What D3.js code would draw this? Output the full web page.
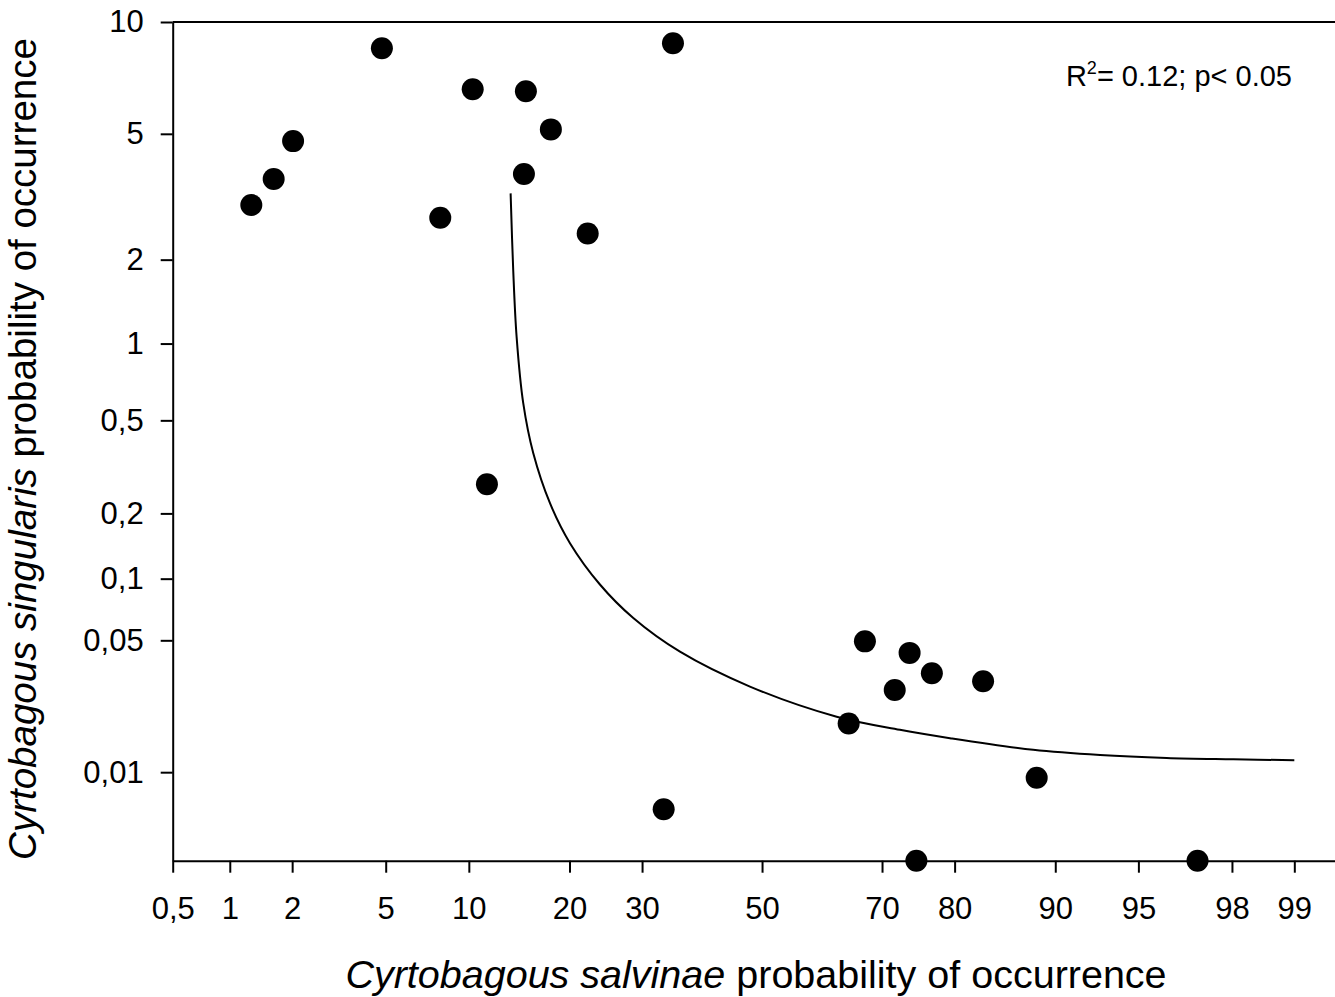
<!DOCTYPE html>
<html>
<head>
<meta charset="utf-8">
<script src="https://cdn.jsdelivr.net/npm/d3@7"></script>
<style>
  html, body { margin: 0; padding: 0; background: #fff; }
  svg { display: block; font-family: "Liberation Sans", Arial, sans-serif; }
</style>
</head>
<body>
<svg id="chart" width="1335" height="997"></svg>
<script>
// Probability of occurrence (%) of each weevil species per site
const salvinae   = [1.28, 1.64, 2.02, 4.83, 7.98, 10.3, 11.46, 15.1, 14.9, 17.8, 22.3, 34.85, 33.36,
                    64.75, 67.35, 71.9, 74.05, 77.1, 83.3, 75.0, 88.5, 97.15];
const singularis = [3.03, 3.66, 4.76, 8.58, 2.76, 6.68, 0.269, 6.6, 3.79, 5.15, 2.45, 8.84, 0.00617,
                    0.0185, 0.0494, 0.0278, 0.0432, 0.034, 0.0309, 0.00308, 0.00932, 0.00308];

// Fitted regression curve
const fitX = [13.59, 13.84, 14.17, 14.83, 15.87, 17.70, 20.06, 23.93, 28.68, 35.99, 47.89,
              62.78, 72.66, 79.43, 88.20, 93.02, 96.15, 98.03, 99.0];
const fitY = [3.30, 1.84, 1.06, 0.587, 0.365, 0.222, 0.1465, 0.0938, 0.0645, 0.0438, 0.0290,
              0.0201, 0.0171, 0.0154, 0.0133, 0.01245, 0.0120, 0.0118, 0.01165];

const xTicks = [0.5, 1, 2, 5, 10, 20, 30, 50, 70, 80, 90, 95, 98, 99];
const yTicks = [0.01, 0.05, 0.1, 0.2, 0.5, 1, 2, 5, 10];
const xDomain = [0.5, 99.5];
const yDomain = [0.00308, 10];

const statText = "= 0.12; p< 0.05";

// Inverse standard normal CDF (Acklam's rational approximation)
function probit(p) {
  const a = [-3.969683028665376e+01, 2.209460984245205e+02, -2.759285104469687e+02,
             1.383577518672690e+02, -3.066479806614716e+01, 2.506628277459239e+00];
  const b = [-5.447609879822406e+01, 1.615858368580409e+02, -1.556989798598866e+02,
             6.680131188771972e+01, -1.328068155288572e+01];
  const c = [-7.784894002430293e-03, -3.223964580411365e-01, -2.400758277161838e+00,
             -2.549732539343734e+00, 4.374664141464968e+00, 2.938163982698783e+00];
  const d = [7.784695709041462e-03, 3.224671290700398e-01, 2.445134137142996e+00,
             3.754408661907416e+00];
  const pl = 0.02425, ph = 1 - pl;
  let q, r;
  if (p < pl) {
    q = Math.sqrt(-2 * Math.log(p));
    return (((((c[0]*q+c[1])*q+c[2])*q+c[3])*q+c[4])*q+c[5]) /
           ((((d[0]*q+d[1])*q+d[2])*q+d[3])*q+1);
  }
  if (p <= ph) {
    q = p - 0.5; r = q * q;
    return (((((a[0]*r+a[1])*r+a[2])*r+a[3])*r+a[4])*r+a[5])*q /
           (((((b[0]*r+b[1])*r+b[2])*r+b[3])*r+b[4])*r+1);
  }
  q = Math.sqrt(-2 * Math.log(1 - p));
  return -(((((c[0]*q+c[1])*q+c[2])*q+c[3])*q+c[4])*q+c[5]) /
          ((((d[0]*q+d[1])*q+d[2])*q+d[3])*q+1);
}

// Probability (normal-probit) scale for percentages, usable with d3.axis
function scaleProbability() {
  const lin = d3.scaleLinear();
  let dom = [1, 99];
  function s(v) { return lin(probit(v / 100)); }
  s.domain = function (d) {
    if (!arguments.length) return dom.slice();
    dom = d.slice();
    lin.domain(dom.map(v => probit(v / 100)));
    return s;
  };
  s.range = function (r) {
    if (!arguments.length) return lin.range();
    lin.range(r);
    return s;
  };
  s.copy = function () { return scaleProbability().domain(dom).range(lin.range()); };
  return s;
}

const W = 1335, H = 997;
const plot = { left: 172.7, top: 22, bottom: 860.7, right: 1351.4 };

const x = scaleProbability().domain(xDomain).range([plot.left, plot.right]);
const y = scaleProbability().domain(yDomain).range([plot.bottom, plot.top]);

const svg = d3.select("#chart");
const fmt = v => String(v).replace(".", ",");

// top frame line
svg.append("line")
  .attr("x1", plot.left).attr("x2", W + 20)
  .attr("y1", plot.top).attr("y2", plot.top)
  .attr("stroke", "#000").attr("stroke-width", 2);

const xAxis = svg.append("g")
  .attr("transform", `translate(0,${plot.bottom})`)
  .call(d3.axisBottom(x).tickValues(xTicks).tickFormat(fmt)
        .tickSizeInner(12).tickSizeOuter(0).tickPadding(24));

const yAxis = svg.append("g")
  .attr("transform", `translate(${plot.left},0)`)
  .call(d3.axisLeft(y).tickValues(yTicks).tickFormat(fmt)
        .tickSizeInner(12).tickSizeOuter(0).tickPadding(17));

[xAxis, yAxis].forEach(g => {
  g.select(".domain").attr("stroke-width", 2).attr("stroke", "#000");
  g.selectAll(".tick line").attr("stroke-width", 2).attr("stroke", "#000");
  g.selectAll(".tick text")
    .attr("fill", "#000")
    .style("font-family", '"Liberation Sans", Arial, sans-serif')
    .style("font-size", "31px");
});

// regression curve
const fit = fitX.map((v, i) => [v, fitY[i]]);
svg.append("path")
  .datum(fit)
  .attr("fill", "none")
  .attr("stroke", "#000")
  .attr("stroke-width", 2)
  .attr("d", d3.line().x(d => x(d[0])).y(d => y(d[1])).curve(d3.curveCatmullRom.alpha(0.5)));

// site points
const pts = salvinae.map((v, i) => [v, singularis[i]]);
svg.append("g").selectAll("circle")
  .data(pts)
  .join("circle")
  .attr("cx", d => x(d[0]))
  .attr("cy", d => y(d[1]))
  .attr("r", 11)
  .attr("fill", "#000");

// statistics annotation
const stat = svg.append("text")
  .attr("x", 1292).attr("y", 86)
  .attr("text-anchor", "end")
  .style("font-size", "29px")
  .attr("fill", "#000");
stat.append("tspan").text("R");
stat.append("tspan").attr("dy", -12).style("font-size", "18px").text("2");
stat.append("tspan").attr("dy", 12).text(statText);

// axis titles
const xTitle = svg.append("text")
  .attr("x", 756).attr("y", 988)
  .attr("text-anchor", "middle")
  .style("font-size", "39.5px")
  .attr("fill", "#000");
xTitle.append("tspan").style("font-style", "italic").text("Cyrtobagous salvinae");
xTitle.append("tspan").text(" probability of occurrence");

const yTitle = svg.append("text")
  .attr("transform", "translate(36,449) rotate(-90)")
  .attr("text-anchor", "middle")
  .style("font-size", "38.5px")
  .attr("fill", "#000");
yTitle.append("tspan").style("font-style", "italic").text("Cyrtobagous singularis");
yTitle.append("tspan").text(" probability of occurrence");
</script>
</body>
</html>
